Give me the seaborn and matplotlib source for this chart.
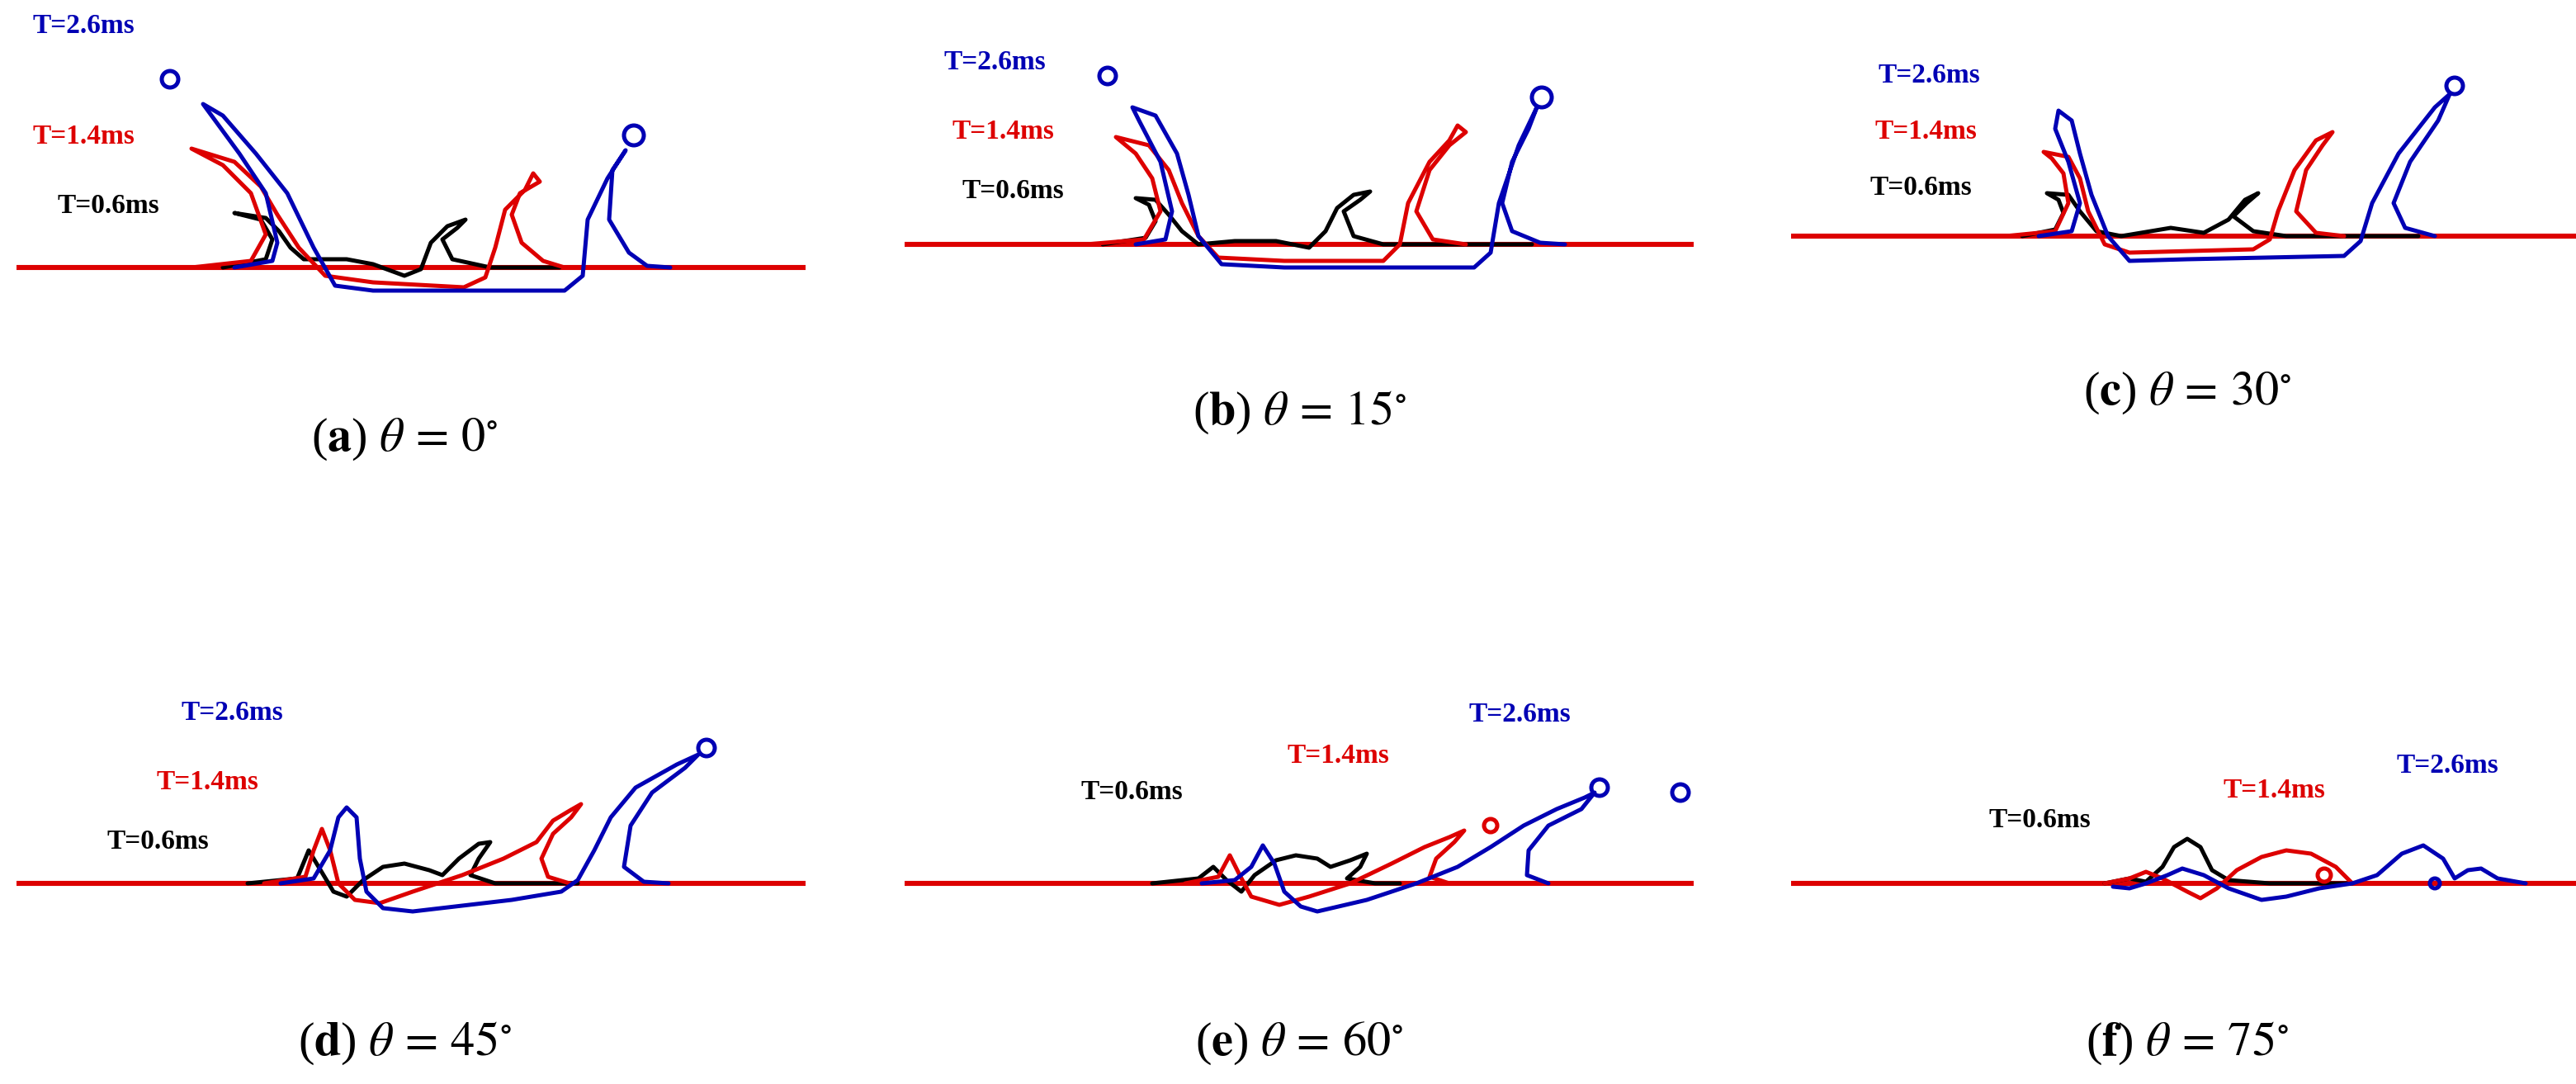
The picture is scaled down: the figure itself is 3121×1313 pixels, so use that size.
import matplotlib
matplotlib.use("Agg")
import matplotlib.pyplot as plt
import seaborn as sns
import numpy as np
import pandas as pd

sns.set_theme(style="white")
plt.rcParams['mathtext.fontset'] = 'stix'
plt.rcParams['font.family'] = ['Liberation Serif', 'DejaVu Serif']

BLACK, RED, BLUE = "#000000", "#dd0000", "#0000b4"
times = ["T=0.6ms", "T=1.4ms", "T=2.6ms"]
captions = [r"($\mathbf{a}$) $\theta\,=\,0^{\circ}$", r"($\mathbf{b}$) $\theta\,=\,15^{\circ}$",
            r"($\mathbf{c}$) $\theta\,=\,30^{\circ}$", r"($\mathbf{d}$) $\theta\,=\,45^{\circ}$",
            r"($\mathbf{e}$) $\theta\,=\,60^{\circ}$", r"($\mathbf{f}$) $\theta\,=\,75^{\circ}$"]

# interface profiles: (x along wall, height above wall) per panel
black_a = [(125,0),(151,5),(155,17),(148,29),(132,33),(151,30),(159,22),(166,12),(174,5),(200,5),(216,2),(235,-5),(245,-1),(251,15),(261,25),(272,29),(267,24),(258,17),(264,5),(287,0),(329,0)]
red_a = [(106,0),(142,4),(151,20),(142,45),(125,62),(106,72),(132,64),(148,49),(158,32),(171,12),(187,-5),(216,-9),(271,-12),(284,-6),(290,12),(296,35),(308,47),(313,57),(317,52),(305,45),(300,32),(306,15),(319,4),(332,0)]
blue_a = [(132,0),(155,4),(158,15),(151,45),(135,69),(113,99),(125,92),(145,69),(164,45),(180,12),(193,-11),(216,-14),(332,-14),(343,-5),(346,29),(358,54),(369,71),(361,59),(359,29),(371,9),(382,1),(396,0)]
drops_a = [(93,114,5,BLUE),(374,80,6,BLUE)]

black_b = [(120,0),(146,4),(152,14),(148,24),(140,28),(152,27),(160,18),(168,8),(178,0),(200,2),(225,2),(245,-2),(255,8),(262,22),(272,30),(282,32),(276,27),(266,20),(272,5),(290,0),(380,0)]
red_b = [(110,0),(145,3),(155,20),(150,40),(140,55),(128,65),(148,60),(160,45),(168,25),(178,5),(190,-8),(230,-10),(290,-10),(300,0),(305,25),(318,50),(330,63),(335,72),(340,68),(330,60),(318,45),(310,20),(320,3),(340,0)]
blue_b = [(140,0),(158,3),(162,20),(155,50),(142,75),(138,83),(152,78),(165,55),(172,30),(178,5),(192,-12),(230,-14),(345,-14),(355,-5),(360,25),(372,60),(383,83),(378,70),(368,50),(362,25),(368,8),(385,1),(400,0)]
drops_b = [(123,102,5,BLUE),(386,89,6,BLUE)]

black_c = [(140,0),(160,4),(165,14),(162,22),(155,26),(168,25),(175,15),(185,3),(200,0),(230,5),(250,2),(265,10),(275,22),(283,26),(276,20),(268,12),(280,3),(300,0),(380,0)]
red_c = [(130,0),(160,3),(168,20),(165,38),(158,47),(153,51),(168,48),(175,35),(180,15),(190,-5),(205,-10),(280,-8),(290,-2),(295,15),(305,40),(318,58),(328,63),(322,55),(312,40),(306,15),(318,2),(335,0)]
blue_c = [(150,0),(170,3),(175,20),(168,45),(160,65),(162,76),(170,70),(175,50),(182,25),(192,0),(205,-15),(240,-14),(335,-12),(345,-3),(352,20),(368,50),(390,78),(399,86),(392,70),(375,45),(365,20),(372,5),(390,0)]
drops_c = [(402,91,5,BLUE)]

black_d = [(140,0),(170,3),(177,20),(183,10),(192,-5),(200,-8),(210,2),(222,10),(235,12),(250,8),(258,5),(268,15),(280,24),(287,25),(280,15),(275,5),(290,0),(340,0)]
red_d = [(150,0),(175,4),(180,20),(185,33),(190,20),(195,0),(205,-10),(220,-12),(240,-5),(270,5),(295,15),(315,25),(325,38),(335,44),(342,48),(336,40),(325,30),(318,15),(322,4),(335,0)]
blue_d = [(160,0),(180,3),(190,20),(195,40),(200,46),(206,40),(208,15),(212,-5),(222,-15),(240,-17),(300,-10),(330,-5),(340,2),(350,20),(360,40),(375,58),(400,72),(413,78),(405,70),(385,55),(372,35),(368,10),(380,1),(395,0)]
drops_d = [(418,82,5,BLUE)]

black_e = [(150,0),(178,3),(187,10),(195,2),(204,-5),(212,5),(225,14),(237,17),(250,15),(258,10),(270,14),(280,18),(276,10),(268,3),(285,0),(300,0)]
red_e = [(170,0),(190,4),(197,17),(203,5),(210,-8),(227,-13),(245,-8),(270,0),(295,12),(315,22),(330,28),(339,32),(333,25),(322,15),(318,4),(330,0)]
blue_e = [(180,0),(200,2),(210,10),(217,23),(224,12),(230,-5),(240,-14),(250,-17),(280,-10),(310,0),(335,10),(355,22),(375,35),(395,45),(412,52),(418,55),(410,45),(390,35),(378,20),(377,5),(390,0)]
drops_e = [(355,35,4,RED),(421,58,5,BLUE),(470,55,5,BLUE)]

black_f = [(190,0),(205,3),(215,1),(225,10),(232,22),(240,27),(248,22),(255,8),(265,2),(290,0),(340,0)]
red_f = [(190,0),(205,3),(215,7),(225,3),(240,-5),(248,-9),(258,-3),(270,8),(285,16),(300,20),(315,18),(330,10),(340,0),(478,0)]
blue_f = [(195,-2),(205,-3),(215,0),(228,5),(237,9),(250,5),(265,-3),(285,-10),(300,-8),(320,-3),(340,0),(355,5),(370,18),(383,23),(395,15),(402,3),(410,8),(418,9),(428,3),(445,0)]
drops_f = [(323,5,4,RED),(390,0,3,BLUE)]

profiles = [(black_a, red_a, blue_a, drops_a), (black_b, red_b, blue_b, drops_b),
            (black_c, red_c, blue_c, drops_c), (black_d, red_d, blue_d, drops_d),
            (black_e, red_e, blue_e, drops_e), (black_f, red_f, blue_f, drops_f)]

# layout (figure pixel units at half scale)
origins = [(10,162),(548,148),(1085,143),(10,535),(548,535),(1085,535)]
label_pos = [[(35,125),(20,83),(20,16)], [(583,116),(577,80),(572,38)], [(1133,114),(1136,80),(1138,46)],
             [(65,510),(95,474),(110,432)], [(655,480),(780,458),(890,433)], [(1205,497),(1347,479),(1452,464)]]
cap_pos = [(245,266),(787,250),(1325,238),(245,632),(787,632),(1325,632)]

fig = plt.figure(figsize=(15.605, 6.565), dpi=200)
ax = fig.add_axes([0, 0, 1, 1])
ax.set_xlim(0, 1560.5)
ax.set_ylim(656.5, 0)
ax.axis("off")

for i, (bk, rd, bl, drops) in enumerate(profiles):
    x0, y0 = origins[i]
    ax.plot([x0, x0 + 478], [y0, y0], color=RED, lw=2.2, zorder=1, solid_capstyle="butt")
    for pts, col in ((bk, BLACK), (rd, RED), (bl, BLUE)):
        df = pd.DataFrame(pts, columns=["x", "h"])
        df["px"] = x0 + df["x"]
        df["py"] = y0 - df["h"]
        sns.lineplot(data=df, x="px", y="py", sort=False, estimator=None, color=col, lw=1.8, ax=ax, zorder=2)
    for (dx, dh, r, col) in drops:
        ax.add_patch(plt.Circle((x0 + dx, y0 - dh), r, fill=False, ec=col, lw=1.8, zorder=3))
    for (lx, ly), t, col in zip(label_pos[i], times, (BLACK, RED, BLUE)):
        ax.text(lx, ly, t, color=col, fontsize=12, fontweight="bold", ha="left", va="center",
                family=["Liberation Serif"])
    cx, cy = cap_pos[i]
    ax.text(cx, cy, captions[i], fontsize=21, ha="center", va="center", color="black")

ax.set_xlabel(""); ax.set_ylabel("")
fig.savefig("out.png", dpi=200)
